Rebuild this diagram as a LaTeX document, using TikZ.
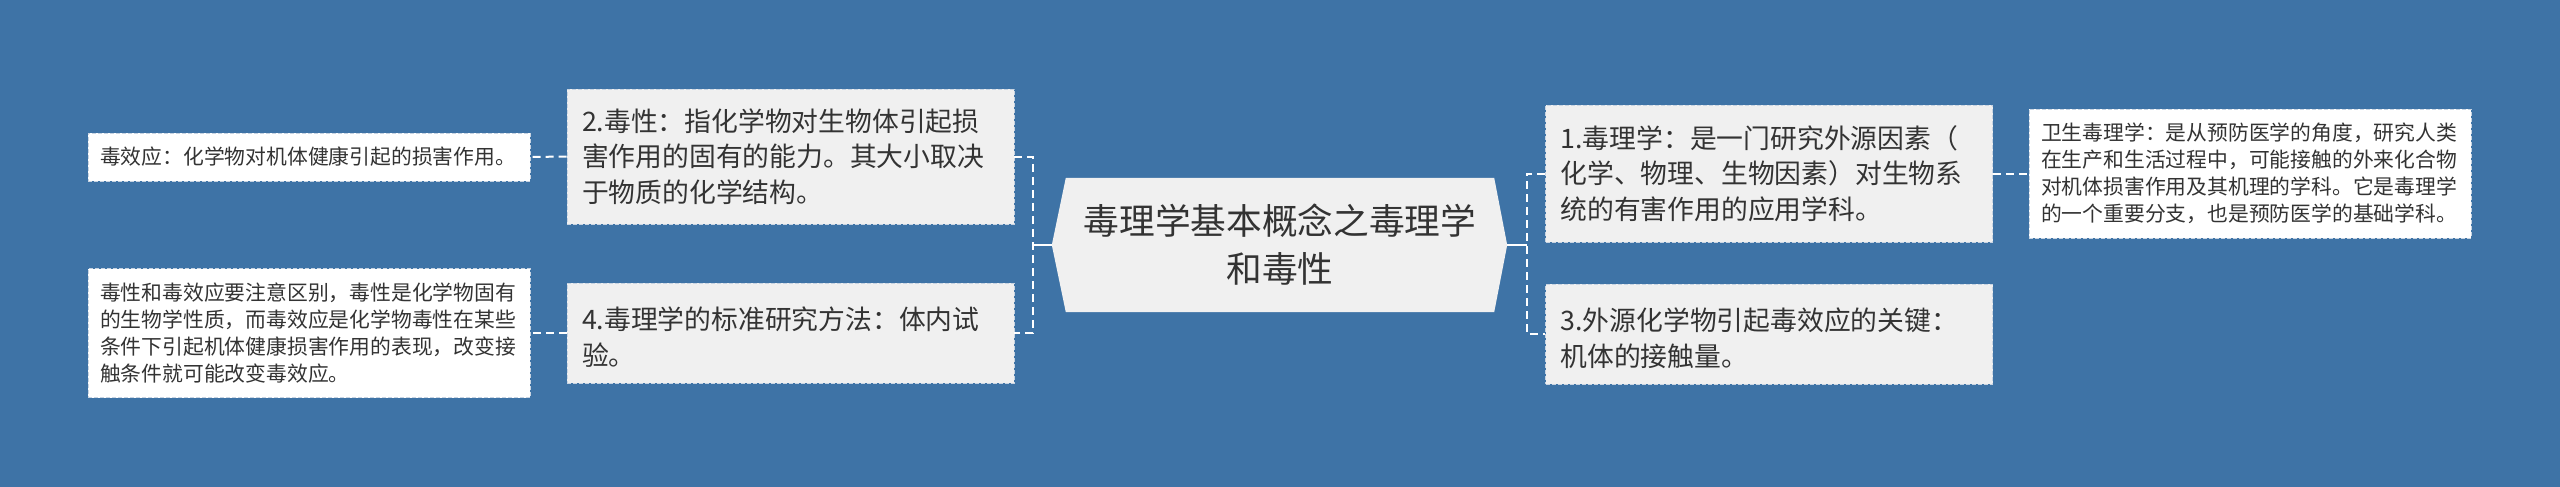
\documentclass[tikz,border=0pt]{standalone}
\usepackage{fontspec}
\setmainfont{Noto Sans CJK SC}
\usepackage{tikz}
\usepackage{xcolor}
\usetikzlibrary{shapes}
\usetikzlibrary{backgrounds}
\usetikzlibrary{calc}
\usetikzlibrary{positioning}

\definecolor{bgblue}{RGB}{62,115,166}
\definecolor{boxgray}{RGB}{240,240,240}
\definecolor{inkgray}{RGB}{51,51,51}
\definecolor{edgegray}{RGB}{200,212,226}

\begin{document}
\begin{tikzpicture}[x=1pt, y=-1pt,
  topic/.style={rectangle, fill=boxgray, draw=edgegray, line width=0.8pt,
    dash pattern=on 4pt off 2pt, text=inkgray, align=left,
    inner xsep=15pt, inner ysep=0pt, text width=417pt, minimum width=447pt,
    font=\fontsize{26.8pt}{35.5pt}\selectfont},
  leaf/.style={rectangle, fill=white, draw=edgegray, line width=0.8pt,
    dash pattern=on 4pt off 2pt, text=inkgray, align=left,
    inner xsep=12pt, inner ysep=0pt, text width=418pt, minimum width=442pt,
    font=\fontsize{20.8pt}{27pt}\selectfont},
  link/.style={draw=white, line width=2pt, dash pattern=on 8pt off 5pt},
  stub/.style={draw=white, line width=2pt}]

  \useasboundingbox (0,0) rectangle (2560,487);
  \begin{scope}[on background layer]
    \fill[bgblue] (0,0) rectangle (2560,487);
  \end{scope}

%%%%%%%%%%%% Centre
  \node[text=inkgray, align=center, inner sep=0pt, text width=428pt,
    minimum width=428pt, minimum height=134pt,
    font=\fontsize{35.7pt}{48pt}\selectfont] (main) at (1280,245)
    {毒理学基本概念之毒理学\\和毒性};
  \coordinate (mainL) at ($(main.west)+(-14,0)$);
  \coordinate (mainR) at ($(main.east)+(13,0)$);
  \begin{scope}[on background layer]
    \fill[boxgray] (main.north west) -- (main.north east) -- (mainR)
      -- (main.south east) -- (main.south west) -- (mainL) -- cycle;
  \end{scope}

%%%%%%%%%%%% Left side
  \node[topic, minimum height=135pt] (tox) at (790.5,156.5)
    {2.毒性：指化学物对生物体引起损\\害作用的固有的能力。其大小取决\\于物质的化学结构。};
  \node[topic, minimum height=100pt] (method) at (790.5,333)
    {\rule{0pt}{31pt}4.毒理学的标准研究方法：体内试\\验。};
  \node[leaf, minimum height=48pt] (effect) at (309,157)
    {毒效应：化学物对机体健康引起的损害作用。};
  \node[leaf, minimum height=129pt] (diff) at (309,333)
    {毒性和毒效应要注意区别，毒性是化学物固有\\的生物学性质，而毒效应是化学物毒性在某些\\条件下引起机体健康损害作用的表现，改变接\\触条件就可能改变毒效应。};

%%%%%%%%%%%% Right side
  \node[topic, minimum height=137pt] (def) at (1769,173.5)
    {1.毒理学：是一门研究外源因素（\\化学、物理、生物因素）对生物系\\统的有害作用的应用学科。};
  \node[topic, minimum height=100pt] (dose) at (1769,334)
    {\rule{0pt}{31pt}3.外源化学物引起毒效应的关键：\\机体的接触量。};
  \node[leaf, minimum height=129pt] (hyg) at (2250,173.5)
    {卫生毒理学：是从预防医学的角度，研究人类\\在生产和生活过程中，可能接触的外来化合物\\对机体损害作用及其机理的学科。它是毒理学\\的一个重要分支，也是预防医学的基础学科。};

%%%%%%%%%%%% Connectors
  \coordinate (lj) at (1033,245);
  \coordinate (rj) at (1527,245);
  \draw[stub] (mainL) -- (lj);
  \draw[stub] (mainR) -- (rj);
  \draw[link] (tox.east) -| (lj) |- (method.east);
  \draw[link] (def.west) -| (rj) |- (dose.west);
  \draw[link] (tox.west) -- (effect.east);
  \draw[link] (method.west) -- (diff.east);
  \draw[link] (def.east) -- (hyg.west);
\end{tikzpicture}
\end{document}
